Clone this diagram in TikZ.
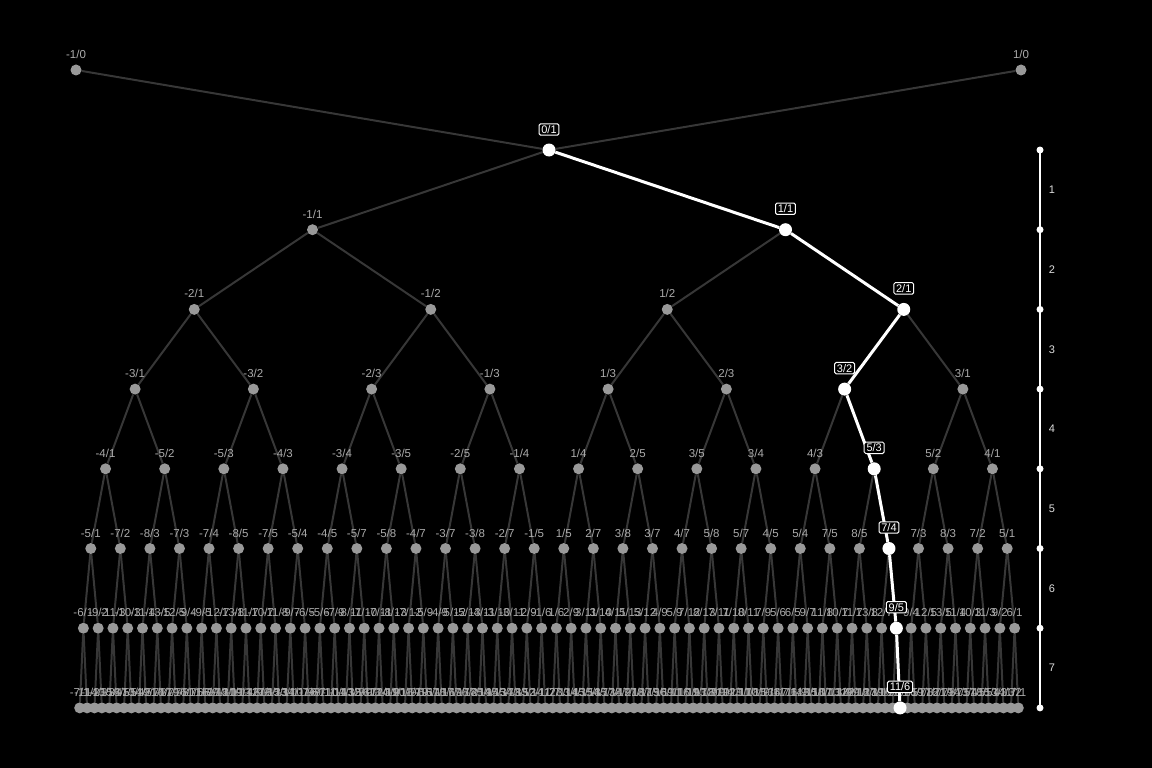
\documentclass[tikz,border=0pt]{standalone}
\usepackage{fontspec}
\setmainfont{Liberation Sans}
\definecolor{nodegray}{HTML}{999999}
\definecolor{lblgray}{HTML}{AAAAAA}
\definecolor{edgegray}{HTML}{373737}
\definecolor{axlbl}{HTML}{DDDDDD}
\pgfdeclarelayer{bg}
\pgfdeclarelayer{edges}
\pgfdeclarelayer{hl}
\pgfdeclarelayer{top}
\pgfsetlayers{bg,edges,main,hl,top}
\tikzset{
  sbnode/.style={circle,fill=nodegray,draw=none,inner sep=0pt,minimum size=11pt},
  hlnode/.style={circle,fill=white,draw=none,inner sep=0pt,minimum size=13pt},
  sbedge/.style={draw=edgegray,line width=2pt},
  hledge/.style={draw=white,line width=3pt},
  lbl/.style={text=lblgray,font=\fontsize{11.5}{12}\selectfont,inner sep=0pt,text height=8pt,text depth=0pt},
  hllbl/.style={draw=white,fill=black,text=white,line width=1pt,rounded corners=1.5pt,
    font=\fontsize{11}{12}\selectfont,inner xsep=2.3pt,inner ysep=1.8pt,text height=7.8pt,text depth=0pt},
  axdot/.style={circle,fill=white,draw=none,inner sep=0pt,minimum size=7pt},
  axlabel/.style={text=axlbl,font=\fontsize{11}{12}\selectfont,inner sep=0pt}
}
\newcommand\sbtree[7]{%
  \ifnum#1<8 \sbdo{#1}{#2}{#3}{#4}{#5}{#6}{#7}\fi
}
\newcommand\sbdo[7]{%
  \begingroup
  \edef\sbn{\the\numexpr#3+#5\relax}%
  \edef\sbd{\the\numexpr#4+#6\relax}%
  \pgfmathsetmacro\sbx{76+(2*#2+1)/2^#1*473}%
  \pgfmathsetmacro\sby{150+79.7*#1}%
  \edef\sbp{\ifcase#1\relax 0\or 1\or 3\or 6\or 13\or 27\or 55\or 111\else -1\fi}%
  \ifnum#2=\sbp\relax
    \begin{pgfonlayer}{hl}
      \node[hlnode] (n#1-#2) at (\sbx,\sby) {};
      \draw[hledge] (#7) -- (n#1-#2);
    \end{pgfonlayer}
    \begin{pgfonlayer}{top}
      \node[hllbl] (t#1-#2) at (\sbx,\sby-21) {\sbn/\sbd};
    \end{pgfonlayer}
  \else
    \node[sbnode] (n#1-#2) at (\sbx,\sby) {};
    \node[lbl] (t#1-#2) at (\sbx,\sby-15.5) {\sbn/\sbd};
    \begin{pgfonlayer}{edges}
      \draw[sbedge] (#7) -- (n#1-#2);
    \end{pgfonlayer}
  \fi
  \edef\sbnext{%
    \noexpand\sbtree{\the\numexpr#1+1\relax}{\the\numexpr2*#2\relax}{#3}{#4}{\sbn}{\sbd}{n#1-#2}%
    \noexpand\sbtree{\the\numexpr#1+1\relax}{\the\numexpr2*#2+1\relax}{\sbn}{\sbd}{#5}{#6}{n#1-#2}%
  }%
  \expandafter\endgroup\sbnext
}
\begin{document}
\begin{tikzpicture}[x=1pt,y=-1pt]
\begin{pgfonlayer}{bg}
  \fill[black] (0,0) rectangle (1152,768);
\end{pgfonlayer}
\useasboundingbox (0,0) rectangle (1152,768);
% top bounds
\node[sbnode] (ml) at (76,70) {};
\node[lbl] (tml) at (76,55) {-1/0};
\node[sbnode] (pl) at (1021,70) {};
\node[lbl] (tpl) at (1021,55) {1/0};
% root
\begin{pgfonlayer}{hl}
  \node[hlnode] (r) at (549,150) {};
\end{pgfonlayer}
\begin{pgfonlayer}{top}
  \node[hllbl] (tr) at (549,129.5) {0/1};
\end{pgfonlayer}
\begin{pgfonlayer}{edges}
  \draw[sbedge] (ml) -- (r);
  \draw[sbedge] (pl) -- (r);
\end{pgfonlayer}
\sbtree{1}{0}{-1}{0}{0}{1}{r}
\sbtree{1}{1}{0}{1}{1}{0}{r}
% depth axis
\foreach \k in {0,...,7}{
  \pgfmathsetmacro\ay{150+79.7*\k}
  \node[axdot] (a\k) at (1040,\ay) {};
}
\begin{pgfonlayer}{edges}
  \draw[white,line width=2pt] (a0.center) -- (a7.center);
\end{pgfonlayer}
\foreach \k in {1,...,7}{
  \pgfmathsetmacro\ly{150+79.7*\k-39.85}
  \node[axlabel] (al\k) at (1052,\ly) {\k};
}
\end{tikzpicture}
\end{document}
